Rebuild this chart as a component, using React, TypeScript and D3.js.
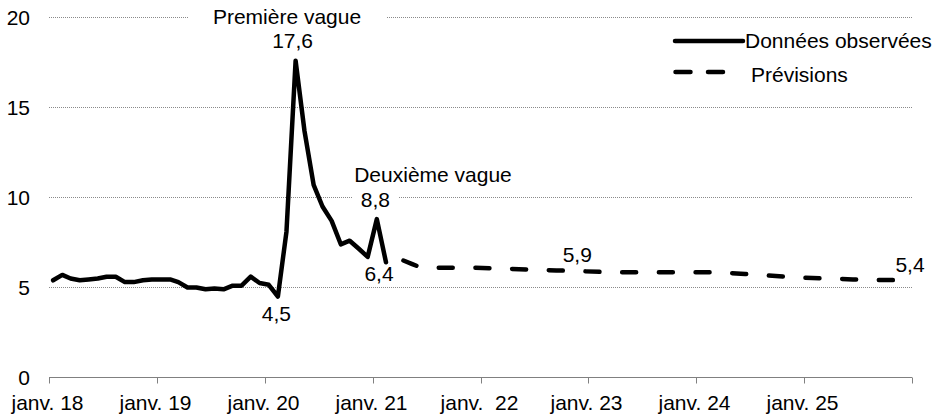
import React from 'react';
import { scaleLinear, scaleTime, line, timeParse, timeDay } from 'd3';

// observed monthly rate, jan. 2018 -> feb. 2021
const obsMonths = [
    "2018-01", "2018-02", "2018-03", "2018-04", "2018-05", "2018-06", "2018-07", "2018-08", "2018-09", "2018-10", "2018-11", "2018-12",
    "2019-01", "2019-02", "2019-03", "2019-04", "2019-05", "2019-06", "2019-07", "2019-08", "2019-09", "2019-10", "2019-11", "2019-12",
    "2020-01", "2020-02", "2020-03", "2020-04", "2020-05", "2020-06", "2020-07", "2020-08", "2020-09", "2020-10", "2020-11", "2020-12",
    "2021-01", "2021-02"
];
const obsValues = [
    5.4, 5.7, 5.5, 5.4, 5.45, 5.5, 5.6, 5.6, 5.3, 5.3, 5.4, 5.45,
    5.45, 5.45, 5.3, 5.0, 5.0, 4.9, 4.95, 4.9, 5.1, 5.1, 5.6, 5.25,
    5.15, 4.5, 8.1, 17.6, 13.7, 10.7, 9.5, 8.7, 7.4, 7.6, 7.15, 6.7,
    8.8, 6.4
];

// forecast
const fcMonths = [
    "2021-04", "2021-05", "2021-06", "2021-09", "2021-12", "2022-03", "2022-06", "2022-09", "2022-12",
    "2023-03", "2023-06", "2023-09", "2023-12", "2024-03", "2024-06", "2024-09", "2024-12",
    "2025-03", "2025-06", "2025-09", "2025-12"
];
const fcValues = [
    6.5, 6.3, 6.1, 6.1, 6.1, 6.05, 6.0, 5.95, 5.9,
    5.85, 5.85, 5.85, 5.85, 5.85, 5.75, 5.65, 5.55,
    5.5, 5.45, 5.42, 5.4
];

const xTickYears = ["2018", "2019", "2020", "2021", "2022", "2023", "2024", "2025", "2026"];
const xTickLabels = ["janv. 18", "janv. 19", "janv. 20", "janv. 21", "janv.  22", "janv. 23", "janv. 24", "janv. 25", ""];
const yTicks = [0, 5, 10, 15, 20];

const FONT = "'Liberation Sans', Arial, sans-serif";

const parseMonth = timeParse("%Y-%m");
const midMonth = (s: string) => timeDay.offset(parseMonth(s) as Date, 14);
const parseYear = timeParse("%Y");

const width = 942;
const height = 414;

const App = () => {
    const xScale = scaleTime()
        .domain([parseYear("2018") as Date, parseYear("2026") as Date])
        .range([49, 912]);

    const yScale = scaleLinear()
        .domain([0, 20])
        .range([377.5, 17.5]);

    const obs = obsMonths.map((m, i) => ({ d: midMonth(m), v: obsValues[i] }));
    const fc = fcMonths.map((m, i) => ({ d: midMonth(m), v: fcValues[i] }));

    const path = line<{ d: Date, v: number }>()
        .x(p => xScale(p.d))
        .y(p => yScale(p.v));

    const pt = (arr: { d: Date, v: number }[], i: number) => [xScale(arr[i].d), yScale(arr[i].v)];

    const peak = pt(obs, 27);     // avr. 2020
    const low = pt(obs, 25);      // févr. 2020
    const second = pt(obs, 36);   // janv. 2021
    const lastObs = pt(obs, 37);  // févr. 2021
    const fc22 = pt(fc, 8);       // déc. 2022
    const fcEnd = pt(fc, fc.length - 1);

    const txt = { fontFamily: FONT, fontSize: 21, fill: "#000" };

    return (
        <svg width={width} height={height} style={{ position: "absolute", left: 0, top: 0, background: "#fff" }}>
            {/* gridlines */}
            {yTicks.filter(t => t > 0).map(t => (
                <line key={t} x1={49} x2={912} y1={yScale(t)} y2={yScale(t)}
                    stroke="#8a8a8a" strokeWidth={1} strokeDasharray="1 1" />
            ))}
            {/* white boxes behind labels that cut the grid */}
            <rect x={188} y={yScale(20) - 9} width={199} height={19} fill="#fff" />
            <rect x={second[0] - 24} y={yScale(10) - 9} width={46} height={19} fill="#fff" />

            {/* x axis */}
            <line x1={49} x2={912} y1={yScale(0)} y2={yScale(0)} stroke="#808080" strokeWidth={1} />
            {xTickYears.map((yr, i) => {
                const x = Math.round(xScale(parseYear(yr) as Date)) + 0.5;
                return (
                    <g key={yr}>
                        <line x1={x} x2={x} y1={yScale(0)} y2={yScale(0) + 6} stroke="#808080" strokeWidth={1} />
                        <text x={x - 2} y={410} textAnchor="middle" style={{ ...txt, whiteSpace: "pre" }}>{xTickLabels[i]}</text>
                    </g>
                );
            })}

            {/* y labels */}
            {yTicks.map(t => (
                <text key={t} x={30} y={yScale(t)} dy="0.36em" textAnchor="end" style={txt}>{t}</text>
            ))}

            {/* series */}
            <path d={path(obs) as string} fill="none" stroke="#000" strokeWidth={4.5}
                strokeLinejoin="round" strokeLinecap="round" />
            <path d={path(fc) as string} fill="none" stroke="#000" strokeWidth={4.5}
                strokeLinejoin="round" strokeLinecap="round" strokeDasharray="14 22.7" />

            {/* annotations */}
            <text x={287} y={24} textAnchor="middle" style={txt}>Première vague</text>
            <text x={peak[0] - 3} y={peak[1] - 12.5} textAnchor="middle" style={txt}>17,6</text>
            <text x={433} y={182} textAnchor="middle" style={txt}>Deuxième vague</text>
            <text x={second[0] - 1.5} y={second[1] - 12.5} textAnchor="middle" style={txt}>8,8</text>
            <text x={lastObs[0] - 7} y={lastObs[1] + 18.5} textAnchor="middle" style={txt}>6,4</text>
            <text x={low[0] - 1.5} y={low[1] + 24.5} textAnchor="middle" style={txt}>4,5</text>
            <text x={fc22[0] - 6} y={fc22[1] - 9.5} textAnchor="middle" style={txt}>5,9</text>
            <text x={fcEnd[0] + 3} y={fcEnd[1] - 8.5} textAnchor="middle" style={txt}>5,4</text>

            {/* legend */}
            <line x1={675} x2={743} y1={41} y2={41} stroke="#000" strokeWidth={4.5} strokeLinecap="round" />
            <text x={745} y={48} style={txt}>Données observées</text>
            <line x1={675.5} x2={723} y1={72} y2={72} stroke="#000" strokeWidth={4.5}
                strokeLinecap="round" strokeDasharray="15 17.5" />
            <text x={751} y={81.5} style={txt}>Prévisions</text>
        </svg>
    );
};

export default App;
